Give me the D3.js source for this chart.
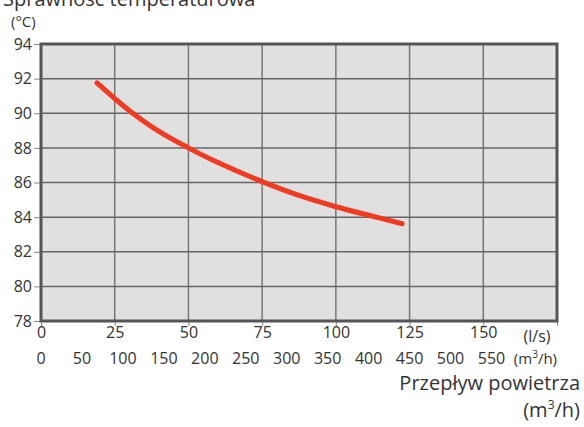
<!DOCTYPE html>
<html>
<head>
<meta charset="utf-8">
<script src="https://cdn.jsdelivr.net/npm/d3@7"></script>
<style>
  body { margin: 0; background: #fff; }
  svg text { font-family: "Open Sans", "Noto Sans", sans-serif; fill: #333; }
</style>
</head>
<body>
<div id="chart"></div>
<script>
// curve: air flow (l/s) vs temperature efficiency (°C)
const flowLs = [19, 25, 30, 40, 50, 60, 75, 87.5, 100, 112.5, 122.5];
const temps = [91.75, 90.85, 90.15, 88.95, 88.0, 87.15, 86.05, 85.25, 84.6, 84.05, 83.62];
const yTicks = [78, 80, 82, 84, 86, 88, 90, 92, 94];
const lsTicks = [0, 25, 50, 75, 100, 125, 150];
const m3hTicks = [0, 50, 100, 150, 200, 250, 300, 350, 400, 450, 500, 550];

const w = 584, h = 427;
const pl = 41, pr = 557, pt = 44, pb = 321;

const svg = d3.select('#chart').append('svg').attr('width', w).attr('height', h);

const x = d3.scaleLinear().domain([0, 175]).range([pl, pr]);
const xm = d3.scaleLinear().domain([0, 175 * 3.6]).range([pl, pr]);
const y = d3.scaleLinear().domain([78, 94]).range([pb, pt]);

// background
svg.append('rect').attr('x', pl).attr('y', pt)
  .attr('width', pr - pl).attr('height', pb - pt)
  .attr('fill', '#e0e0e0');

// grid
svg.append('g').selectAll('line').data(lsTicks.slice(1)).join('line')
  .attr('x1', d => x(d)).attr('x2', d => x(d))
  .attr('y1', pt).attr('y2', pb)
  .attr('stroke', '#777').attr('stroke-width', 1.5);
svg.append('g').selectAll('line').data(yTicks.slice(1, -1)).join('line')
  .attr('x1', pl).attr('x2', pr)
  .attr('y1', d => y(d)).attr('y2', d => y(d))
  .attr('stroke', '#666').attr('stroke-width', 1.5);

// axes
const yAxis = d3.axisLeft(y).tickValues(yTicks).tickSize(7).tickPadding(2);
const gy = svg.append('g').attr('transform', `translate(${pl},0)`).call(yAxis);
gy.select('.domain').remove();
gy.selectAll('.tick line').attr('stroke', '#888');
gy.selectAll('.tick text').attr('font-size', 16).attr('fill', '#333');

const xAxis = d3.axisBottom(x).tickValues(lsTicks.concat([175])).tickSize(5).tickPadding(1)
  .tickFormat(d => d === 175 ? '' : d);
const gx = svg.append('g').attr('transform', `translate(0,${pb})`).call(xAxis);
gx.select('.domain').remove();
gx.selectAll('.tick line').attr('stroke', '#888');
gx.selectAll('.tick text').attr('font-size', 16).attr('fill', '#333');

svg.append('g').selectAll('text').data(m3hTicks).join('text')
  .attr('x', d => xm(d)).attr('y', 364)
  .attr('text-anchor', 'middle').attr('font-size', 16)
  .text(d => d);

// frame
svg.append('rect').attr('x', pl).attr('y', pt)
  .attr('width', pr - pl).attr('height', pb - pt)
  .attr('fill', 'none').attr('stroke', '#555').attr('stroke-width', 3);

// curve
const line = d3.line().x((d, i) => x(flowLs[i])).y(d => y(d)).curve(d3.curveCatmullRom.alpha(0.5));
svg.append('path').datum(temps).attr('d', line)
  .attr('fill', 'none').attr('stroke', '#f03a22')
  .attr('stroke-width', 5).attr('stroke-linecap', 'round');

// labels
svg.append('text').attr('x', 3).attr('y', 6).attr('font-size', 20).text('Sprawność temperaturowa');
svg.append('text').attr('x', 11).attr('y', 27).attr('font-size', 15).text('(°C)');
svg.append('text').attr('x', 537).attr('y', 342).attr('text-anchor', 'middle').attr('font-size', 16).text('(l/s)');
const m3 = svg.append('text').attr('x', 557).attr('y', 364).attr('text-anchor', 'end').attr('font-size', 15);
m3.append('tspan').text('(m');
m3.append('tspan').attr('font-size', 10).attr('dy', -6).text('3');
m3.append('tspan').attr('dy', 6).text('/h)');
svg.append('text').attr('x', 580).attr('y', 390).attr('text-anchor', 'end').attr('font-size', 20).text('Przepływ powietrza');
const u = svg.append('text').attr('x', 580).attr('y', 417).attr('text-anchor', 'end').attr('font-size', 20);
u.append('tspan').text('(m');
u.append('tspan').attr('font-size', 12).attr('dy', -8).text('3');
u.append('tspan').attr('dy', 8).text('/h)');
</script>
</body>
</html>
